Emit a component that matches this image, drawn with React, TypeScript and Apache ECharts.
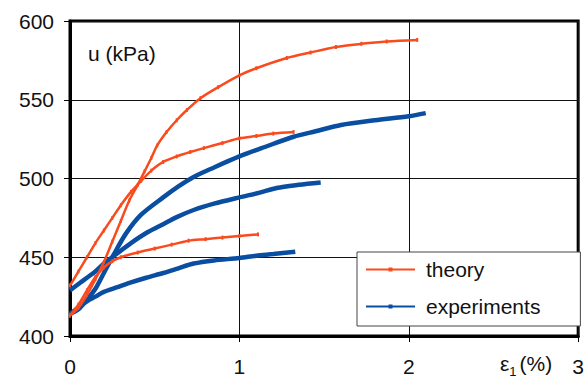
import React, { useEffect, useRef } from "react";
import * as echarts from "echarts";

// strain eps1 (%) and pore pressure u (kPa)
const theoryTop: [number, number][] = [
  [0, 413], [0.05, 418], [0.1, 426], [0.15, 436], [0.2, 447], [0.25, 460], [0.3, 473],
  [0.35, 486], [0.4, 496], [0.44, 504.5], [0.48, 513], [0.515, 521], [0.57, 529.5],
  [0.63, 537], [0.69, 543.5], [0.77, 551], [0.875, 558], [1.0, 565.5], [1.1, 570],
  [1.28, 576.5], [1.42, 580], [1.57, 583.5], [1.72, 585.5], [1.87, 587], [2.05, 588],
];
const theoryMid: [number, number][] = [
  [0, 432], [0.05, 441], [0.1, 450], [0.15, 459], [0.2, 467], [0.25, 475], [0.3, 483],
  [0.36, 491.5], [0.42, 498.5], [0.48, 505], [0.55, 510.5], [0.63, 514], [0.71, 516.8],
  [0.79, 519.3], [0.9, 522.5], [1.0, 525.5], [1.1, 527], [1.2, 528.5], [1.32, 529.5],
];
const theoryLow: [number, number][] = [
  [0, 413], [0.05, 420], [0.1, 429], [0.15, 437.5], [0.2, 443.5], [0.25, 447.5], [0.3, 450],
  [0.4, 453], [0.5, 455.5], [0.6, 458], [0.7, 460.5], [0.8, 461.5], [0.9, 462.5],
  [1.0, 463.5], [1.11, 464.5],
];
const expTop: [number, number][] = [
  [0, 414], [0.05, 417], [0.1, 423], [0.15, 430], [0.2, 440], [0.26, 452], [0.33, 465],
  [0.42, 477], [0.55, 488], [0.64, 495], [0.73, 501], [0.85, 507], [1.0, 514],
  [1.15, 520], [1.32, 526.5], [1.45, 530], [1.6, 534], [1.8, 537], [2.0, 539.5], [2.1, 541.5],
];
const expMid: [number, number][] = [
  [0, 429], [0.05, 433], [0.1, 437], [0.15, 441], [0.2, 446], [0.28, 452.5], [0.36, 459],
  [0.46, 466], [0.55, 471], [0.63, 475.5], [0.73, 480], [0.85, 484], [1.0, 488],
  [1.12, 491], [1.22, 494], [1.35, 496], [1.48, 497.5],
];
const expLow: [number, number][] = [
  [0, 414], [0.05, 418], [0.1, 422], [0.15, 425], [0.2, 428], [0.28, 431], [0.36, 434],
  [0.45, 437], [0.55, 440], [0.64, 443], [0.73, 446], [0.85, 448], [1.0, 449.5],
  [1.1, 451], [1.2, 452], [1.33, 453.5],
];
const seriesNames = ["theory", "experiments"];
const yLabel = "u (kPa)";

const ORANGE = "#F94B1E";
const BLUE = "#0A4EA2";
const FONT = "Liberation Sans, Arial, sans-serif";

export default function App() {
  const ref = useRef<HTMLDivElement>(null);
  useEffect(() => {
    document.body.style.margin = "0";
    const chart = echarts.init(ref.current!, null, { renderer: "svg" });
    const theoryStyle = (data: [number, number][]) => ({
      type: "line",
      name: seriesNames[0],
      data,
      smooth: 0.3,
      symbol: "rect",
      symbolSize: [2, 4],
      itemStyle: { color: ORANGE },
      lineStyle: { color: ORANGE, width: 2.5 },
      z: 3,
    });
    const expStyle = (data: [number, number][]) => ({
      type: "line",
      name: seriesNames[1],
      data,
      smooth: 0.3,
      symbol: "rect",
      symbolSize: [3, 3],
      showSymbol: false,
      itemStyle: { color: BLUE },
      lineStyle: { color: BLUE, width: 4.5 },
      z: 2,
    });
    chart.setOption({
      animation: false,
      textStyle: { fontFamily: FONT },
      grid: {
        left: 70, top: 21, right: 2, bottom: 47,
        show: true, borderColor: "#000", borderWidth: 3,
      },
      xAxis: {
        type: "value", min: 0, max: 3, interval: 1,
        axisLine: { show: true, lineStyle: { color: "#000", width: 3 } },
        axisTick: { show: true, length: 6, lineStyle: { color: "#000", width: 1 } },
        axisLabel: { fontSize: 21, color: "#111", margin: 20, fontFamily: FONT,
          formatter: (v: number) => String(v) },
        splitLine: { show: true, lineStyle: { color: "#111", width: 1 } },
      },
      yAxis: {
        type: "value", min: 400, max: 600, interval: 50,
        axisLine: { show: true, lineStyle: { color: "#000", width: 3 } },
        axisTick: { show: true, length: 6, lineStyle: { color: "#000", width: 1 } },
        axisLabel: { fontSize: 21, color: "#111", margin: 16, fontFamily: FONT },
        splitLine: { show: true, lineStyle: { color: "#111", width: 1 } },
      },
      legend: {
        data: seriesNames,
        orient: "vertical",
        left: 357, top: 252,
        padding: [7, 40, 9, 8],
        itemGap: 16,
        itemWidth: 49,
        itemHeight: 5,
        backgroundColor: "#fff",
        borderColor: "#444",
        borderWidth: 1,
        textStyle: { fontSize: 21, color: "#111", fontFamily: FONT, padding: [0, 0, 0, 6] },
      },
      graphic: [
        {
          type: "text", left: 88, top: 43,
          style: { text: yLabel, fontSize: 21, fill: "#111", fontFamily: FONT },
        },
        {
          type: "text", left: 500, top: 353,
          style: {
            text: "{a|ε}{b|1}{a|(%)}",
            fill: "#111",
            rich: {
              a: { fontSize: 21, fontFamily: FONT, fill: "#111", verticalAlign: "bottom" },
              b: { fontSize: 13, fontFamily: FONT, fill: "#111", verticalAlign: "bottom", padding: [0, 3, -4, 0] },
            },
          },
        },
      ],
      series: [
        expStyle(expTop), expStyle(expMid), expStyle(expLow),
        theoryStyle(theoryTop), theoryStyle(theoryMid), theoryStyle(theoryLow),
      ],
    });
    return () => chart.dispose();
  }, []);
  return (
    <div
      ref={ref}
      style={{ position: "fixed", left: 0, top: 0, width: 587, height: 383, background: "#fff" }}
    />
  );
}
